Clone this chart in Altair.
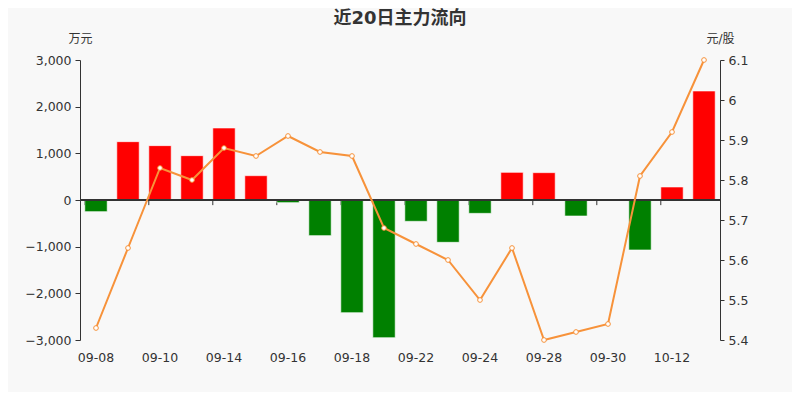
import altair as alt
import pandas as pd

dates = ["09-08", "09-09", "09-10", "09-11", "09-14", "09-15", "09-16", "09-17", "09-18", "09-21",
         "09-22", "09-23", "09-24", "09-25", "09-28", "09-29", "09-30", "10-09", "10-12", "10-13"]
flows = [-250, 1250, 1165, 950, 1543, 521, -57, -764, -2414, -2950,
         -457, -907, -286, 593, 586, -343, 20, -1071, 279, 2336]
prices = [5.43, 5.63, 5.83, 5.80, 5.88, 5.86, 5.91, 5.87, 5.86, 5.68,
          5.64, 5.60, 5.50, 5.63, 5.40, 5.42, 5.44, 5.81, 5.92, 6.10]
label_dates = dates[::2]

df = pd.DataFrame({"date": dates, "flow": flows, "price": prices})
df["sign"] = ["pos" if v >= 0 else "neg" for v in flows]
ticks_df = pd.DataFrame({"date": label_dates})

FONT = "DejaVu Sans, Noto Sans CJK SC"
TXT = "#333333"
FS = 12.5

x_scale = alt.Scale(domain=dates, paddingInner=0.3, paddingOuter=0.15)
x_axis = alt.Axis(title=None, values=label_dates, labelAngle=0, ticks=False,
                  domain=False, labelPadding=11, labelColor=TXT, labelFontSize=FS,
                  labelFont=FONT, bandPosition=0.5)
x_enc = alt.X("date:N", sort=dates, scale=x_scale, axis=x_axis)

left_axis = alt.Axis(title="万元", titleAngle=0, titleX=0, titleY=-22, titleAlign="center",
                     titleBaseline="middle", titleFont=FONT, titleFontSize=12,
                     titleFontWeight="normal", titleColor=TXT,
                     values=[-3000, -2000, -1000, 0, 1000, 2000, 3000], format=",.0f",
                     grid=False, tickSize=5, labelPadding=4, domainColor=TXT, tickColor=TXT,
                     labelColor=TXT, labelFontSize=FS, labelFont=FONT)
left_scale = alt.Scale(domain=[-3000, 3000], nice=False)

base = alt.Chart(df)

tick_rules = alt.Chart(ticks_df).mark_rule(color=TXT, strokeWidth=1).encode(
    x=alt.X("date:N", sort=dates, scale=x_scale, bandPosition=0, axis=x_axis),
    y=alt.Y(datum=0, scale=left_scale, axis=left_axis),
    y2=alt.Y2(datum=-110),
)

zero_rule = base.mark_rule(color=TXT, strokeWidth=1.5).encode(
    x=alt.value(0), x2=alt.value(640), y=alt.Y(datum=0, scale=left_scale, axis=left_axis)
)

bars = base.mark_bar(stroke="white", strokeOpacity=0.6, strokeWidth=1).encode(
    x=x_enc,
    y=alt.Y("flow:Q", scale=left_scale, axis=left_axis),
    y2=alt.Y2(datum=0),
    color=alt.Color("sign:N", scale=alt.Scale(domain=["pos", "neg"], range=["#ff0000", "#008000"]),
                    legend=None),
)

left = alt.layer(tick_rules, bars, zero_rule)

y_right = alt.Y("price:Q", scale=alt.Scale(domain=[5.4, 6.1], nice=False, zero=False),
                axis=alt.Axis(orient="right", title="元/股", titleAngle=0, titleX=0, titleY=-22,
                              titleAlign="center", titleBaseline="middle", titleFont=FONT,
                              titleFontSize=12, titleFontWeight="normal", titleColor=TXT,
                              values=[5.4, 5.5, 5.6, 5.7, 5.8, 5.9, 6.0, 6.1], format="~g",
                              grid=False, tickSize=4, labelPadding=4, domainColor=TXT,
                              tickColor=TXT, labelColor=TXT, labelFontSize=FS, labelFont=FONT))

line = base.mark_line(color="#f7923a", strokeWidth=2).encode(
    x=alt.X("date:N", sort=dates, scale=x_scale, axis=x_axis), y=y_right
)
points = base.mark_point(shape="circle", filled=True, fill="white", stroke="#f7923a",
                         strokeWidth=1, size=22, opacity=1).encode(
    x=alt.X("date:N", sort=dates, scale=x_scale, axis=x_axis), y=y_right
)
right = alt.layer(line, points)

chart = alt.layer(left, right).resolve_scale(y="independent").properties(
    width=640, height=280,
    autosize=alt.AutoSizeParams(type="none"),
    padding={"left": 72, "top": 52, "right": 72, "bottom": 52},
    background="#f8f8f8",
    title=alt.TitleParams("近20日主力流向", anchor="middle", font=FONT, fontSize=18,
                          fontWeight="bold", color=TXT, offset=4),
).configure_view(stroke=None)

chart.save("out.html", embed_options={"renderer": "svg", "actions": False})
